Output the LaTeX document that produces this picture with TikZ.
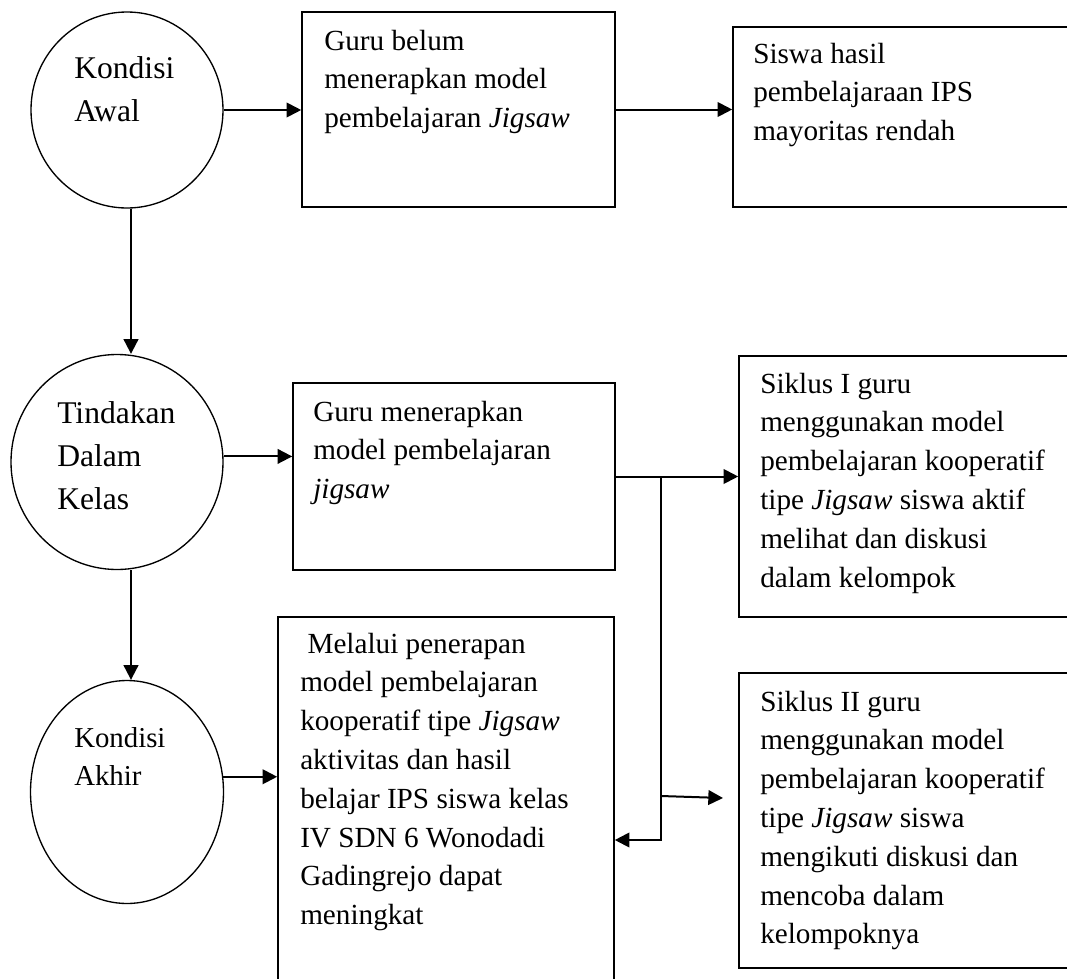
\documentclass[tikz,border=0pt]{standalone}
\usepackage{fontspec}
\setmainfont{Liberation Serif}
\usetikzlibrary{arrows.meta,shapes.geometric,fit}
\begin{document}
\begin{tikzpicture}[x=0.75pt,y=-0.75pt,
  circ/.style={draw, ellipse, line width=1pt, inner sep=0pt},
  boxn/.style={draw, rectangle, line width=1.2pt, inner sep=0pt},
  bigtxt/.style={font=\fontsize{23.7}{32.25}\selectfont, align=left, anchor=base west, inner sep=0pt},
  txt/.style={font=\fontsize{21.9}{29.1}\selectfont, align=left, anchor=base west, inner sep=0pt},
  conn/.style={line width=1.5pt, -{Triangle[length=11pt,width=11pt]}}]
\useasboundingbox (0,0) rectangle (1067,978);
\fill[white] (0,0) rectangle (1067,978);
\clip (0,0) rectangle (1067,978);

% ellipses
\node[circ, minimum width=192*0.75pt, minimum height=196*0.75pt] (e1) at (127,110) {};
\node[circ, minimum width=212*0.75pt, minimum height=215*0.75pt] (e2) at (117,462) {};
\node[circ, minimum width=193*0.75pt, minimum height=223*0.75pt] (e3) at (127,792) {};

% boxes
\node[boxn, fit={(302,12) (615,207)}] (b1) {};
\node[boxn, fit={(733,27) (1090,207)}] (b2) {};
\node[boxn, fit={(293,383) (615,570)}] (b3) {};
\node[boxn, fit={(739,356) (1090,617)}] (s1) {};
\node[boxn, fit={(278,617) (614,1000)}] (b5) {};
\node[boxn, fit={(739,673) (1090,968)}] (s2) {};

% texts (anchored at the baseline of their last line)
\node[bigtxt] (t1) at (74,121) {Kondisi\\Awal};
\node[bigtxt] (t2) at (57,509) {Tindakan\\Dalam\\Kelas};
\node[txt, font=\fontsize{21.6}{28.5}\selectfont] (t3) at (74,785) {Kondisi\\Akhir};
\node[txt] (tb1) at (324,127.6) {Guru belum\\menerapkan model\\pembelajaran \textit{Jigsaw}};
\node[txt] (tb2) at (753,140.6) {Siswa hasil\\pembelajaraan IPS\\mayoritas rendah};
\node[txt] (tb3) at (313,498.6) {Guru menerapkan\\model pembelajaran\\\textit{jigsaw}};
\node[txt] (ts1) at (760,587) {Siklus I guru\\menggunakan model\\pembelajaran kooperatif\\tipe \textit{Jigsaw} siswa aktif\\melihat dan diskusi\\dalam kelompok};
\node[txt] (tb5) at (300,924.6) {\hspace*{0.25em}Melalui penerapan\\model pembelajaran\\kooperatif tipe \textit{Jigsaw}\\aktivitas dan hasil\\belajar IPS siswa kelas\\IV SDN 6 Wonodadi\\Gadingrejo dapat\\meningkat};
\node[txt] (ts2) at (760,943.8) {Siklus II guru\\menggunakan model\\pembelajaran kooperatif\\tipe \textit{Jigsaw} siswa\\mengikuti diskusi dan\\mencoba dalam\\kelompoknya};

% connectors
\coordinate (vx) at (131,0);
\coordinate (jx) at (661,0);
\coordinate (j2) at (661,796);
\coordinate (j3) at (661,840);
\coordinate (a2end) at (723,798);

\draw[conn] (e1.east) -- (e1.east -| b1.west);
\draw[conn] (b1.east) -- (b1.east -| b2.west);
\draw[conn] (e1.south -| vx) -- (e2.north -| vx);
\draw[conn] (e2.3) -- (e2.3 -| b3.west);
\draw[conn] (e2.south -| vx) -- (e3.north -| vx);
\draw[conn] (e3.9) -- (e3.9 -| b5.west);
\draw[conn] (b3.east) -- (b3.east -| s1.west);
\draw[conn] (b3.east -| jx) -- (j3) -- (j3 -| b5.east);
\draw[conn] (j2) -- (a2end);
\end{tikzpicture}
\end{document}
